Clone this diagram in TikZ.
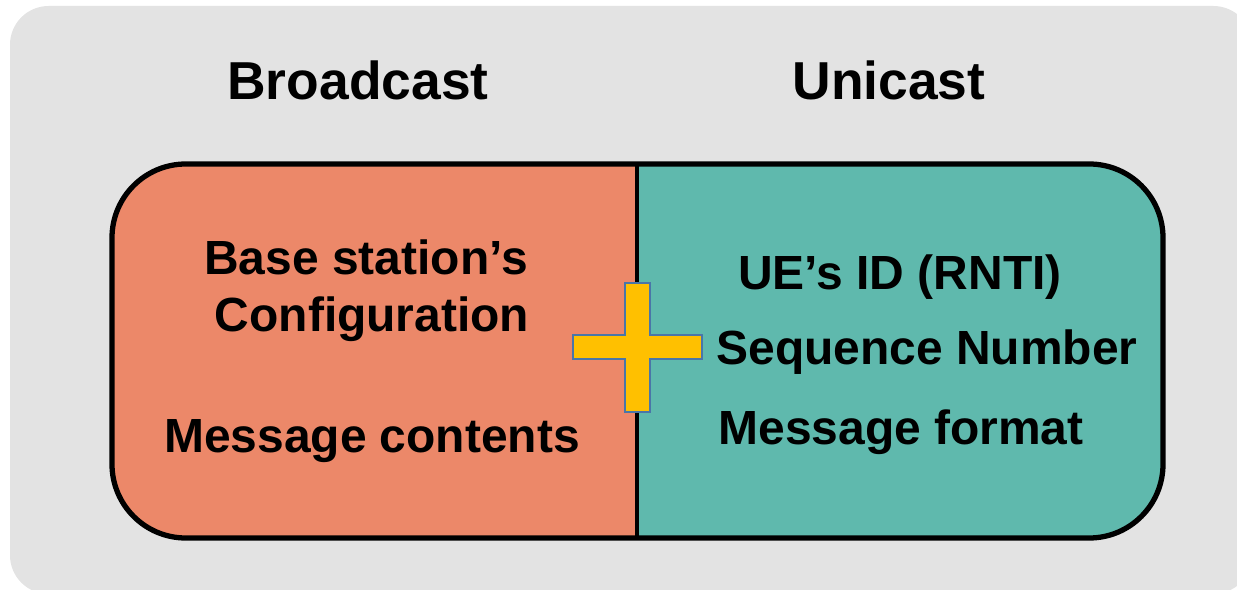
\documentclass[tikz,border=0pt]{standalone}
\usepackage{fontspec}
\setmainfont{Liberation Sans}
\definecolor{panelgray}{HTML}{E3E3E3}
\definecolor{bcastred}{HTML}{EC8869}
\definecolor{ucastteal}{HTML}{5FB9AD}
\definecolor{plusgold}{HTML}{FFC000}
\definecolor{plusedge}{HTML}{4A76A8}
\tikzset{
  title/.style={font=\fontsize{30.4}{36}\selectfont\bfseries, anchor=base, inner sep=0pt},
  item/.style={font=\fontsize{27.3}{32}\selectfont\bfseries, anchor=base, inner sep=0pt},
}
\begin{document}
\begin{tikzpicture}[x=0.02cm, y=-0.02cm]
    \useasboundingbox (0,0) rectangle (1237,590);
    \clip (0,0) rectangle (1237,590);

    % gray panel
    \fill[panelgray, rounded corners=22pt] (10,6) rectangle (1252,594);

    % the two halves
    \begin{scope}
        \clip (100,150) rectangle (637,550);
        \fill[bcastred, rounded corners=42pt] (112,164) rectangle (1163,538);
    \end{scope}
    \begin{scope}
        \clip (637,150) rectangle (1180,550);
        \fill[ucastteal, rounded corners=42pt] (112,164) rectangle (1163,538);
    \end{scope}
    \draw[line width=3pt, rounded corners=42pt] (112,164) rectangle (1163,538);
    \coordinate (divtop) at (637,164);
    \coordinate (divbot) at (637,538);
    \draw[line width=2.6pt] (divtop) -- (divbot);

    \node[title] (bcast) at (358,100) {Broadcast};
    \node[title] (ucast) at (889,100) {Unicast};

    \node[item] (bsname) at (366,275) {Base station’s};
    \node[item] (bsconf) at (372,332) {Configuration};
    \node[item] (msgcont) at (372,453) {Message contents};

    \node[item] (ueid) at (900,290) {UE’s ID (RNTI)};
    \node[item] (seqnum) at (927,365) {Sequence Number};
    \node[item] (msgfmt) at (901,445) {Message format};

    % plus sign
    \draw[fill=plusgold, draw=plusedge, line width=1.1pt]
        (625,283) -- (650,283) -- (650,335) -- (702,335) -- (702,359) -- (650,359)
        -- (650,412) -- (625,412) -- (625,359) -- (573,359) -- (573,335) -- (625,335) -- cycle;
\end{tikzpicture}
\end{document}
